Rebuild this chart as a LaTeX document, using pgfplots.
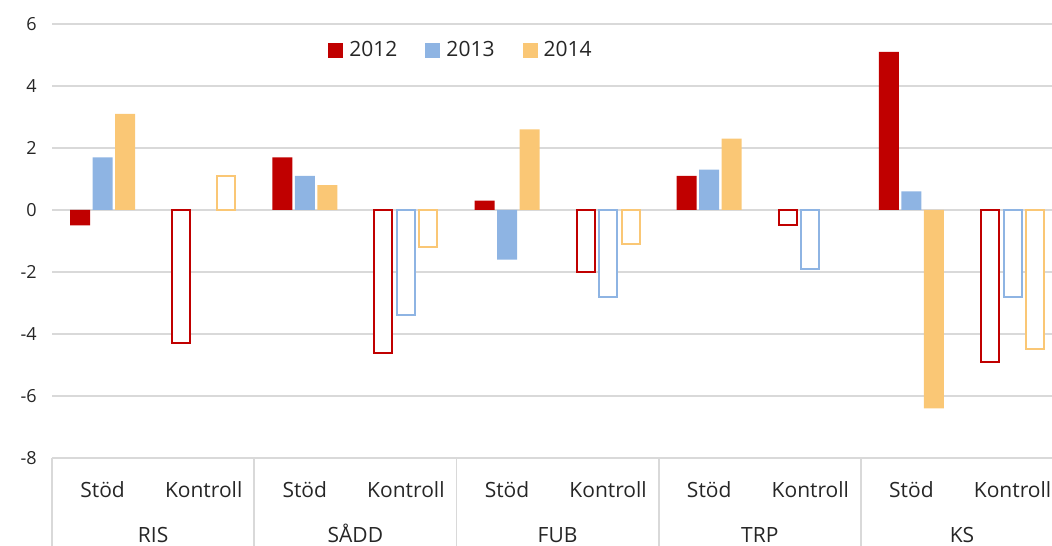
\documentclass[border=0pt]{standalone}
\usepackage{fontspec}
\setmainfont{Open Sans}
\usepackage{pgfplots}
\pgfplotsset{compat=1.18}
\definecolor{c12}{HTML}{C00000}
\definecolor{c13}{HTML}{8EB4E3}
\definecolor{c14}{HTML}{FAC775}
\definecolor{gridc}{HTML}{D9D9D9}
\definecolor{txt}{HTML}{262626}
\begin{document}
\begin{tikzpicture}
\begin{axis}[
  scale only axis, width=500pt, height=217pt,
  xmin=-0.5, xmax=9.39, ymin=-8, ymax=6,
  ytick={-8,-6,...,6},
  xtick=\empty,
  ymajorgrids, grid style={gridc, line width=0.9pt},
  axis line style={draw=none},
  major tick length=0pt,
  yticklabel style={anchor=east, inner sep=0pt, xshift=-7.5pt, font=\fontsize{9}{10}\selectfont, text=txt},
  /pgf/number format/assume math mode=true,
  ybar, bar width=10pt,
  clip=false,
  legend style={at={(0.41,0.94)}, anchor=center, draw=none, fill=none, legend columns=-1,
    font=\fontsize{10.5}{12}\selectfont, text=txt,
    /tikz/every odd column/.append style={column sep=1pt},
    /tikz/every even column/.append style={column sep=12pt}},
  legend image code/.code={\fill[#1] (0pt,-3.75pt) rectangle (7.5pt,3.75pt);},
]
% Stöd (filled)
\addplot[fill=c12, draw=none, bar shift=-11.25pt] coordinates {(0,-0.5) (2,1.7) (4,0.3) (6,1.1) (8,5.1)};
\addlegendentry{2012}
\addplot[fill=c13, draw=none, bar shift=0pt] coordinates {(0,1.7) (2,1.1) (4,-1.6) (6,1.3) (8,0.6)};
\addlegendentry{2013}
\addplot[fill=c14, draw=none, bar shift=11.25pt] coordinates {(0,3.1) (2,0.8) (4,2.6) (6,2.3) (8,-6.4)};
\addlegendentry{2014}
% Kontroll (outlined)
\addplot[fill=white, draw=c12, line width=1pt, bar width=9pt, bar shift=-11.25pt, forget plot] coordinates {(1,-4.3) (3,-4.6) (5,-2.0) (7,-0.5) (9,-4.9)};
\addplot[fill=white, draw=c13, line width=1pt, bar width=9pt, bar shift=0pt, forget plot] coordinates {(3,-3.4) (5,-2.8) (7,-1.9) (9,-2.8)};
\addplot[fill=white, draw=c14, line width=1pt, bar width=9pt, bar shift=11.25pt, forget plot] coordinates {(1,1.1) (3,-1.2) (5,-1.1) (9,-4.5)};
% category box
\draw[gridc, line width=0.9pt] (axis cs:-0.5,-8) -- ++(0pt,-50pt);
\draw[gridc, line width=0.9pt] (axis cs:1.5,-8) -- ++(0pt,-50pt);
\draw[gridc, line width=0.9pt] (axis cs:3.5,-8) -- ++(0pt,-50pt);
\draw[gridc, line width=0.9pt] (axis cs:5.5,-8) -- ++(0pt,-50pt);
\draw[gridc, line width=0.9pt] (axis cs:7.5,-8) -- ++(0pt,-50pt);
\tikzset{sub/.style={text=txt, font=\fontsize{10.5}{12}\selectfont, anchor=base, yshift=-19.5pt, inner sep=0pt}}
\tikzset{grp/.style={text=txt, font=\fontsize{10.5}{12}\selectfont, anchor=base, yshift=-42pt, inner sep=0pt}}
\node[sub] at (axis cs:0,-8) {Stöd};
\node[sub] at (axis cs:1,-8) {Kontroll};
\node[sub] at (axis cs:2,-8) {Stöd};
\node[sub] at (axis cs:3,-8) {Kontroll};
\node[sub] at (axis cs:4,-8) {Stöd};
\node[sub] at (axis cs:5,-8) {Kontroll};
\node[sub] at (axis cs:6,-8) {Stöd};
\node[sub] at (axis cs:7,-8) {Kontroll};
\node[sub] at (axis cs:8,-8) {Stöd};
\node[sub] at (axis cs:9,-8) {Kontroll};
\node[grp] at (axis cs:0.5,-8) {RIS};
\node[grp] at (axis cs:2.5,-8) {SÅDD};
\node[grp] at (axis cs:4.5,-8) {FUB};
\node[grp] at (axis cs:6.5,-8) {TRP};
\node[grp] at (axis cs:8.5,-8) {KS};
\end{axis}
\pgfresetboundingbox
\path[use as bounding box] (-26pt,-43.5pt) rectangle (500pt,229pt);
\end{tikzpicture}
\end{document}
